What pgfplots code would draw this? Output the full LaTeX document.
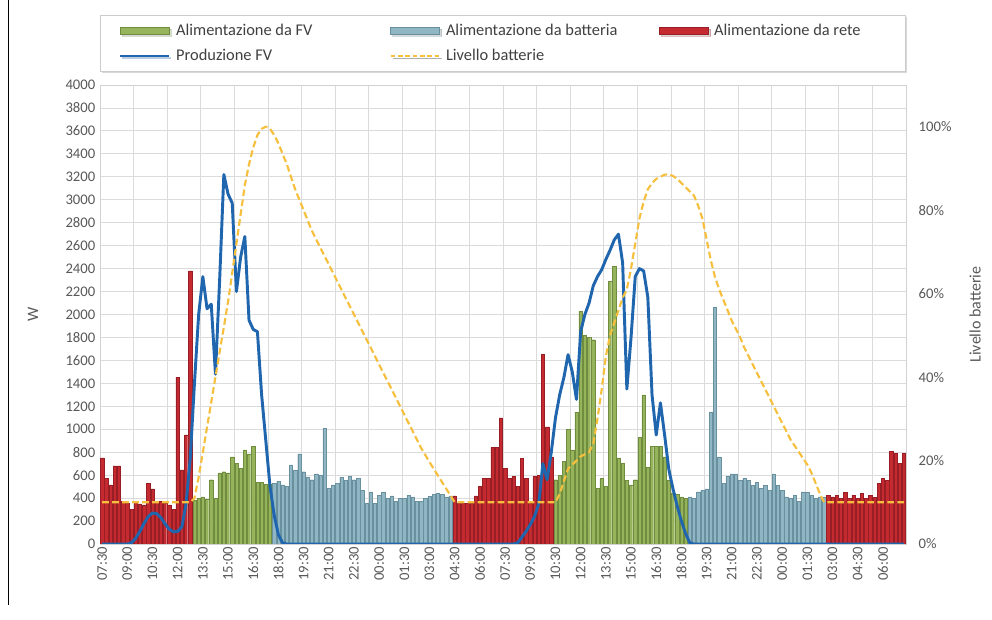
\documentclass[border=0pt]{standalone}
\usepackage{pgfplots}
\pgfplotsset{compat=1.18}
\usepackage{pgfplotstable}
\usepackage{fontspec}
\setmainfont{Carlito}
\usetikzlibrary{shadows}

\definecolor{cfv}{RGB}{150,180,92}
\definecolor{cfvd}{RGB}{112,140,62}
\definecolor{cbt}{RGB}{143,182,194}
\definecolor{cbtd}{RGB}{104,144,158}
\definecolor{crt}{RGB}{196,42,48}
\definecolor{crtd}{RGB}{150,30,36}
\definecolor{cpv}{RGB}{32,102,174}
\definecolor{cyel}{RGB}{246,192,62}
\definecolor{ctxt}{RGB}{89,89,89}

\pgfplotstableread{
i fv bt rt pv lv
0 nan nan 750 0 10
1 nan nan 570 0 10
2 nan nan 515 0 10
3 nan nan 680 0 10
4 nan nan 680 0 10
5 nan nan 370 0 10
6 nan nan 355 0 10
7 nan nan 300 10 10
8 nan nan 360 50 10
9 nan nan 350 110 10
10 nan nan 340 180 10
11 nan nan 530 240 10
12 nan nan 480 270 10
13 nan nan 360 265 10
14 nan nan 370 230 10
15 nan nan 355 175 10
16 nan nan 340 130 10
17 nan nan 300 105 10
18 nan nan 1455 110 10
19 nan nan 645 150 10
20 nan nan 950 350 10
21 nan nan 2380 750 10
22 380 nan nan 1400 11
23 400 nan nan 2000 16
24 410 nan nan 2330 22
25 390 nan nan 2050 28
26 560 nan nan 2090 34
27 400 nan nan 1480 40
28 620 nan nan 2300 46
29 630 nan nan 3220 52
30 620 nan nan 3050 58
31 760 nan nan 2970 65
32 700 nan nan 2200 72
33 660 nan nan 2500 79
34 820 nan nan 2680 86
35 785 nan nan 1950 91
36 850 nan nan 1870 95
37 540 nan nan 1850 98
38 540 nan nan 1300 99.5
39 520 nan nan 900 100
40 520 nan nan 500 99.5
41 nan 530 nan 250 98
42 nan 545 nan 80 96
43 nan 515 nan 10 93.5
44 nan 505 nan 0 91
45 nan 690 nan 0 88
46 nan 640 nan 0 85
47 nan 785 nan 0 82.5
48 nan 630 nan 0 80
49 nan 585 nan 0 77.5
50 nan 560 nan 0 75
51 nan 610 nan 0 73
52 nan 600 nan 0 71
53 nan 1010 nan 0 69
54 nan 485 nan 0 67
55 nan 515 nan 0 65
56 nan 530 nan 0 63
57 nan 580 nan 0 61
58 nan 555 nan 0 59
59 nan 590 nan 0 57
60 nan 560 nan 0 55
61 nan 570 nan 0 53
62 nan 465 nan 0 51
63 nan 355 nan 0 49
64 nan 455 nan 0 47
65 nan 355 nan 0 45
66 nan 425 nan 0 43
67 nan 450 nan 0 41
68 nan 400 nan 0 39
69 nan 420 nan 0 37
70 nan 370 nan 0 35
71 nan 400 nan 0 33
72 nan 400 nan 0 31
73 nan 425 nan 0 29
74 nan 410 nan 0 27
75 nan 370 nan 0 25
76 nan 370 nan 0 23
77 nan 400 nan 0 21.3
78 nan 415 nan 0 19.6
79 nan 430 nan 0 18
80 nan 440 nan 0 16.4
81 nan 430 nan 0 14.8
82 nan 410 nan 0 13.2
83 nan 420 nan 0 11.6
84 nan nan 420 0 10
85 nan nan 355 0 10
86 nan nan 355 0 10
87 nan nan 355 0 10
88 nan nan 355 0 10
89 nan nan 420 0 10
90 nan nan 500 0 10
91 nan nan 570 0 10
92 nan nan 570 0 10
93 nan nan 840 0 10
94 nan nan 840 0 10
95 nan nan 1100 0 10
96 nan nan 660 0 10
97 nan nan 570 0 10
98 nan nan 590 0 10
99 nan nan 500 10 10
100 nan nan 745 60 10
101 nan nan 570 110 10
102 nan nan 355 170 10
103 nan nan 590 240 10
104 nan nan 600 350 10
105 nan nan 1650 700 10
106 nan nan 1020 560 10
107 nan nan 760 800 10
108 560 nan nan 1100 10
109 600 nan nan 1300 12
110 720 nan nan 1450 15
111 1000 nan nan 1650 18
112 820 nan nan 1500 19
113 1150 nan nan 1260 20
114 2030 nan nan 1850 21
115 1820 nan nan 2000 21.5
116 1800 nan nan 2100 22
117 1780 nan nan 2250 24
118 485 nan nan 2330 30
119 570 nan nan 2390 37
120 500 nan nan 2480 45
121 2290 nan nan 2560 50
122 2420 nan nan 2650 53
123 750 nan nan 2700 56
124 700 nan nan 2450 59
125 555 nan nan 1350 61
126 515 nan nan 1800 66
127 560 nan nan 2330 72
128 930 nan nan 2400 78
129 1300 nan nan 2380 82
130 670 nan nan 2150 85
131 850 nan nan 1300 86.5
132 850 nan nan 950 87.5
133 850 nan nan 1230 88
134 760 nan nan 950 88.5
135 555 nan nan 650 88.6
136 440 nan nan 480 88.2
137 430 nan nan 330 87.5
138 410 nan nan 200 86.5
139 400 nan nan 90 85.5
140 nan 410 nan 10 84.5
141 nan 395 nan 0 83.5
142 nan 455 nan 0 81
143 nan 470 nan 0 78
144 nan 480 nan 0 73
145 nan 1150 nan 0 68
146 nan 2060 nan 0 64
147 nan 760 nan 0 61
148 nan 530 nan 0 58.5
149 nan 590 nan 0 56
150 nan 610 nan 0 53.5
151 nan 610 nan 0 51.5
152 nan 555 nan 0 49.5
153 nan 570 nan 0 47
154 nan 555 nan 0 45
155 nan 510 nan 0 43
156 nan 540 nan 0 41
157 nan 485 nan 0 39
158 nan 510 nan 0 37
159 nan 470 nan 0 35
160 nan 610 nan 0 33
161 nan 510 nan 0 31
162 nan 470 nan 0 29
163 nan 410 nan 0 27
164 nan 395 nan 0 25
165 nan 425 nan 0 23.5
166 nan 370 nan 0 22
167 nan 455 nan 0 20.5
168 nan 450 nan 0 19
169 nan 425 nan 0 17
170 nan 395 nan 0 14.5
171 nan 410 nan 0 12
172 nan 410 nan 0 10
173 nan nan 425 0 10
174 nan nan 410 0 10
175 nan nan 425 0 10
176 nan nan 395 0 10
177 nan nan 450 0 10
178 nan nan 395 0 10
179 nan nan 425 0 10
180 nan nan 395 0 10
181 nan nan 440 0 10
182 nan nan 395 0 10
183 nan nan 425 0 10
184 nan nan 405 0 10
185 nan nan 530 0 10
186 nan nan 570 0 10
187 nan nan 555 0 10
188 nan nan 805 0 10
189 nan nan 790 0 10
190 nan nan 700 0 10
191 nan nan 790 0 10
}\data

\begin{document}
\begin{tikzpicture}
\useasboundingbox (0pt,0pt) rectangle (744pt,465pt);
\fill[white] (0pt,0pt) rectangle (744pt,465pt);
\draw[black, line width=0.8pt] (6.5pt,465pt) -- (6.5pt,11pt);
\begin{axis}[
  at={(75pt,57pt)}, anchor=south west,
  scale only axis, width=604.5pt, height=344.25pt,
  xmin=-0.5, xmax=191.5, ymin=0, ymax=4000,
  xtick={0,6,...,186},
  xticklabels={07:30,09:00,10:30,12:00,13:30,15:00,16:30,18:00,19:30,21:00,22:30,00:00,01:30,03:00,04:30,06:00,07:30,09:00,10:30,12:00,13:30,15:00,16:30,18:00,19:30,21:00,22:30,00:00,01:30,03:00,04:30,06:00},
  xticklabel style={rotate=90, anchor=east, inner sep=2pt},
  minor xtick={-0.5,7.5,...,191.5},
  xmajorgrids=false, xminorgrids=true, ymajorgrids=true,
  ytick={0,200,...,4000},
  major grid style={gray!28, line width=0.6pt},
  minor grid style={gray!28, line width=0.6pt},
  major tick length=0pt, minor tick length=0pt,
  axis line style={draw=gray!35},
  tick label style={font=\fontsize{11}{13}\selectfont, text=ctxt},
  /pgf/number format/assume math mode=true,
  /pgf/number format/1000 sep={},
  ylabel={W},
  ylabel style={at={(axis description cs:-0.083,0.5)}, anchor=center, font=\fontsize{12}{14}\selectfont, text=ctxt},
  legend columns=3,
  legend style={at={(axis description cs:0,1.1525)}, anchor=north west,
    draw=gray!40, fill=white, font=\fontsize{12.3}{13.5}\selectfont, text=black!75,
    inner xsep=14pt, inner ysep=4.5pt, row sep=5pt,
    drop shadow={shadow xshift=1.5pt, shadow yshift=-1.5pt, opacity=0.3},
    /tikz/every odd column/.append style={column sep=2pt}},
  legend cell align=left,
]
\addplot[ybar, bar width=0.8, bar shift=0pt, fill=cfv, draw=cfvd, line width=0.3pt,
  legend image code/.code={\draw[fill=cfv, draw=cfvd] (0pt,-2.6pt) rectangle (36.75pt,2.6pt);}]
  table[x=i, y=fv]{\data};
\addlegendentry{\makebox[158pt][l]{Alimentazione da FV}}
\addplot[ybar, bar width=0.8, bar shift=0pt, fill=cbt, draw=cbtd, line width=0.3pt,
  legend image code/.code={\draw[fill=cbt, draw=cbtd] (0pt,-2.6pt) rectangle (36.75pt,2.6pt);}]
  table[x=i, y=bt]{\data};
\addlegendentry{\makebox[158pt][l]{Alimentazione da batteria}}
\addplot[ybar, bar width=0.8, bar shift=0pt, fill=crt, draw=crtd, line width=0.3pt,
  legend image code/.code={\draw[fill=crt, draw=crtd] (0pt,-2.6pt) rectangle (36.75pt,2.6pt);}]
  table[x=i, y=rt]{\data};
\addlegendentry{\makebox[127.5pt][l]{Alimentazione da rete}}
\addplot[sharp plot, color=cpv, line width=2.2pt, line join=round,
  legend image code/.code={\draw[cpv, line width=2.2pt] (0pt,0pt) -- (36.75pt,0pt);}]
  table[x=i, y=pv]{\data};
\addlegendentry{Produzione FV}
\addlegendimage{legend image code/.code={\draw[cyel, line width=1.6pt, dash pattern=on 3.5pt off 2pt] (0pt,0pt) -- (36.75pt,0pt);}}
\addlegendentry{Livello batterie}
\end{axis}
\begin{axis}[
  at={(75pt,57pt)}, anchor=south west,
  scale only axis, width=604.5pt, height=344.25pt,
  xmin=-0.5, xmax=191.5, ymin=0, ymax=110,
  axis y line*=right, axis x line=none,
  axis line style={draw=none},
  major tick length=0pt,
  ytick={0,20,...,100},
  yticklabel={\pgfmathprintnumber{\tick}\%},
  yticklabel style={xshift=6pt},
  tick label style={font=\fontsize{11}{13}\selectfont, text=ctxt},
  /pgf/number format/assume math mode=true,
  ylabel={Livello batterie},
  ylabel style={at={(axis description cs:1.0856,0.5)}, anchor=center, font=\fontsize{12}{14}\selectfont, text=ctxt},
]
\addplot[sharp plot, color=cyel, line width=1.6pt, dash pattern=on 5pt off 2.5pt]
  table[x=i, y=lv]{\data};
\end{axis}
\end{tikzpicture}
\end{document}
